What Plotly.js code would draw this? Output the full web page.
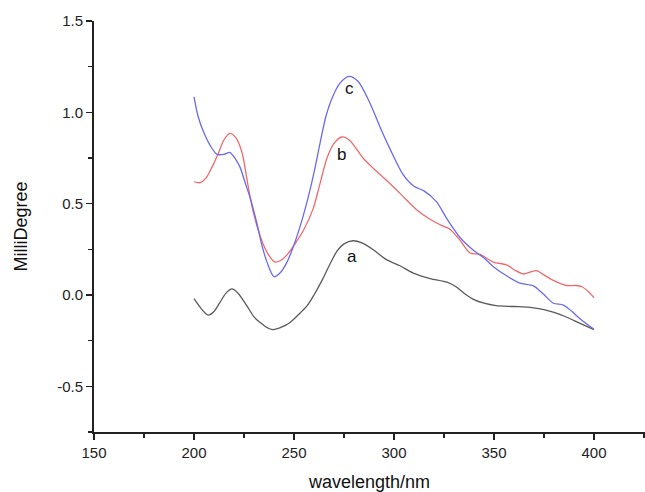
<!DOCTYPE html>
<html>
<head>
<meta charset="utf-8">
<script src="https://cdn.plot.ly/plotly-3.0.1.min.js"></script>
<style>html,body{margin:0;padding:0;background:#fff;}#chart{width:645px;height:492px;}</style>
</head>
<body>
<div id="chart"></div>
<script>
// Curve a (black)
var waveA = [200,204,207,210,213,216,219,222,226.5,230,233,236,239.5,244,248,252,256.5,260,264,268,271.5,275,279.5,284,290,296,303,309.7,318,326.5,331,335,340,345,351,360,368,375,380,385,390,395,400];
var cdA = [-0.02,-0.08,-0.11,-0.09,-0.04,0.01,0.033,0.01,-0.06,-0.12,-0.15,-0.175,-0.19,-0.175,-0.15,-0.11,-0.06,0.0,0.08,0.17,0.24,0.28,0.297,0.285,0.245,0.195,0.16,0.12,0.09,0.07,0.045,0.01,-0.025,-0.045,-0.058,-0.063,-0.068,-0.08,-0.095,-0.115,-0.14,-0.165,-0.19];
// Curve b (red)
var waveB = [200,203,206,209,212,215,218,221,224,227,229.5,232,234.5,237.5,240.5,243.5,246.5,250.5,255,259.5,263,266.5,270,274,278,284.5,290,296.5,304.5,311,318,324,328,333,338,343,349.7,356.3,360.5,364.7,368,371.3,375,379.7,386.3,391,394,397,400];
var cdB = [0.62,0.615,0.64,0.70,0.77,0.85,0.885,0.86,0.78,0.60,0.46,0.36,0.28,0.215,0.18,0.19,0.22,0.28,0.36,0.47,0.61,0.75,0.83,0.865,0.845,0.75,0.69,0.625,0.54,0.47,0.415,0.38,0.36,0.30,0.23,0.222,0.18,0.165,0.135,0.115,0.125,0.133,0.11,0.08,0.052,0.052,0.045,0.02,-0.015];
// Curve c (blue)
var waveC = [200,202,204.5,208,211.5,215,218,221,223,226,228,231.5,234,236.5,240,243,246.5,250.5,254,257,260,263,266,269.5,273,277.5,282,288,293,298,304.5,310,315,321.3,326.3,333,339.7,344.7,349.7,356.3,363,369.7,374.7,379.7,384.7,389,393,400];
var cdC = [1.085,0.98,0.90,0.82,0.77,0.77,0.78,0.74,0.70,0.60,0.535,0.39,0.27,0.18,0.10,0.12,0.18,0.29,0.41,0.53,0.67,0.83,0.98,1.09,1.16,1.197,1.17,1.05,0.92,0.80,0.66,0.595,0.57,0.51,0.42,0.315,0.245,0.205,0.155,0.105,0.065,0.05,0.005,-0.045,-0.055,-0.09,-0.13,-0.188];

var curveLabels = ['a','b','c'];
var labelX = [279,273.8,277.5];
var labelY = [0.21,0.77,1.13];

var xTickVals = [150,200,250,300,350,400];
var xTickText = ['150','200','250','300','350','400'];
var yTickVals = [-0.5,0,0.5,1.0,1.5];
var yTickText = ['-0.5','0.0','0.5','1.0','1.5'];

var font = '"Liberation Sans", Arial, sans-serif';
function tr(x,y,c){return {x:x,y:y,type:'scatter',mode:'lines',line:{color:c,width:1.3,shape:'spline',smoothing:0.8},hoverinfo:'skip',showlegend:false};}
var data = [tr(waveA,cdA,'#5a5a5a'), tr(waveB,cdB,'#ee6a6a'), tr(waveC,cdC,'#6a6aee')];

var annotations = curveLabels.map(function(t,i){return {x:labelX[i],y:labelY[i],text:t,showarrow:false,font:{family:font,size:17,color:'#111'}};});

var layout = {
  width:645, height:492,
  margin:{l:94,r:0,t:21,b:60},
  paper_bgcolor:'#fff', plot_bgcolor:'#fff',
  font:{family:font,color:'#222'},
  xaxis:{range:[150,425.5],tickmode:'array',tickvals:xTickVals,ticktext:xTickText,ticks:'outside',ticklen:6,tickwidth:1.5,tickcolor:'#222',
    minor:{tick0:150,dtick:25,ticks:'outside',ticklen:4,tickwidth:1.5,tickcolor:'#222'},
    showline:true,linecolor:'#222',linewidth:2,showgrid:false,zeroline:false,
    tickfont:{size:15,color:'#222'},
    title:{text:'wavelength/nm',font:{size:18,color:'#111'},standoff:17}},
  yaxis:{range:[-0.75,1.5],tickmode:'array',tickvals:yTickVals,ticktext:yTickText,ticks:'outside',ticklen:6,tickwidth:1.5,tickcolor:'#222',
    minor:{tick0:0,dtick:0.25,ticks:'outside',ticklen:4,tickwidth:1.5,tickcolor:'#222'},
    showline:true,linecolor:'#222',linewidth:2,showgrid:false,zeroline:false,
    tickfont:{size:15,color:'#222'},
    title:{text:'MilliDegree',font:{size:18,color:'#111'},standoff:25}},
  annotations:annotations
};
Plotly.newPlot('chart',data,layout,{staticPlot:true});
</script>
</body>
</html>
